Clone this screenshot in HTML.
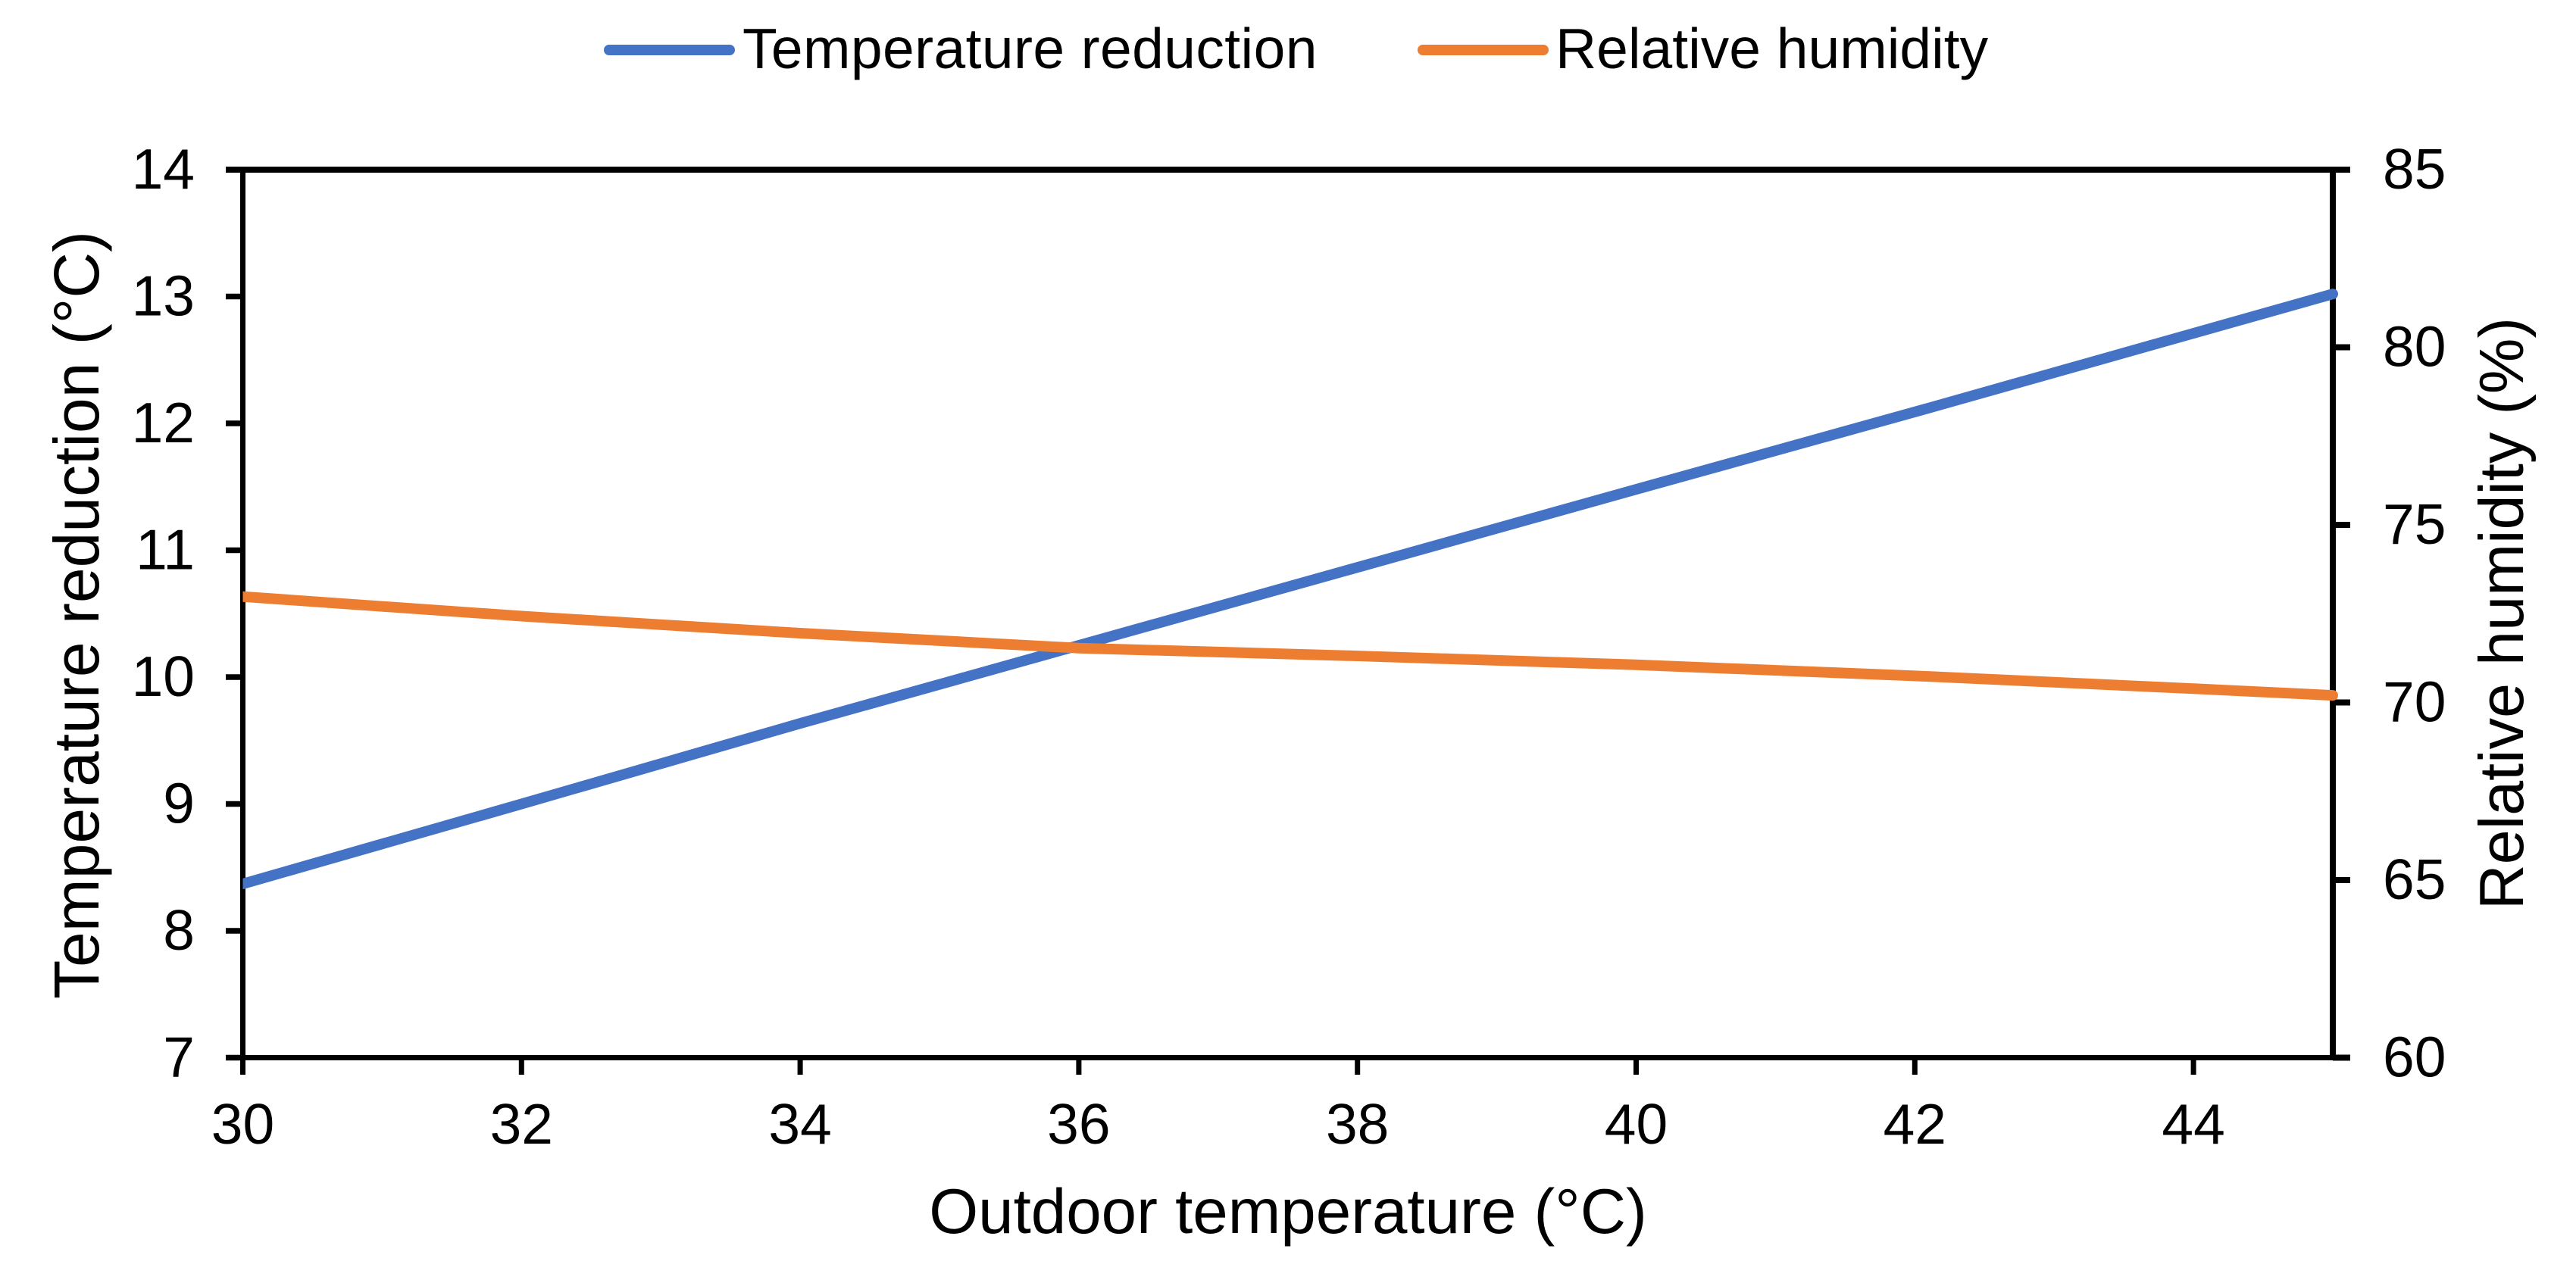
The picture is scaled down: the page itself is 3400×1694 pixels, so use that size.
<!DOCTYPE html>
<html lang="en">
<head>
<meta charset="utf-8">
<title>Temperature reduction and relative humidity vs outdoor temperature</title>
<style>
  html, body { margin: 0; padding: 0; background: #fff; }
  svg { display: block; }
  text { font-family: "Liberation Sans", Arial, sans-serif; font-size: 75px; fill: #000; }
  .axis-title { font-size: 84px; }
  .axis-title-x { font-size: 83.5px; }
  .axis-title-right { font-size: 82.8px; }
</style>
</head>
<body>
<svg id="chart" xmlns="http://www.w3.org/2000/svg" width="3400" height="1694" viewBox="0 0 3400 1694">
  <rect x="0" y="0" width="3400" height="1694" fill="#ffffff"/>
  <g id="axes"></g>
  <g id="series"></g>
  <g id="legend"></g>
  <text class="axis-title-x" x="1700" y="1628" text-anchor="middle">Outdoor temperature (°C)</text>
  <text class="axis-title" transform="translate(130 812) rotate(-90)" text-anchor="middle">Temperature reduction (°C)</text>
  <text class="axis-title-right" transform="translate(3330 810) rotate(-90)" text-anchor="middle">Relative humidity (%)</text>
</svg>
<script>
const outdoorTemps = [30, 32, 34, 36, 38, 40, 42, 44, 45];
const temperatureReduction = [8.37, 9.0, 9.635, 10.25, 10.865, 11.48, 12.09, 12.71, 13.02];
const relativeHumidity = [72.98, 72.43, 71.95, 71.53, 71.31, 71.06, 70.75, 70.39, 70.2];
const xTicks = [30, 32, 34, 36, 38, 40, 42, 44];
const leftTicks = [7, 8, 9, 10, 11, 12, 13, 14];
const rightTicks = [60, 65, 70, 75, 80, 85];

const NS = 'http://www.w3.org/2000/svg';
const plot = { left: 320.5, right: 3079, top: 224, bottom: 1396.5 };
const xMin = 30, xMax = 45, leftMin = 7, leftMax = 14, rightMin = 60, rightMax = 85;

function xScale(v) { return plot.left + (v - xMin) / (xMax - xMin) * (plot.right - plot.left); }
function leftScale(v) { return plot.bottom - (v - leftMin) / (leftMax - leftMin) * (plot.bottom - plot.top); }
function rightScale(v) { return plot.bottom - (v - rightMin) / (rightMax - rightMin) * (plot.bottom - plot.top); }

function make(tag, parent, attrs) {
  const el = document.createElementNS(NS, tag);
  for (const k in attrs) el.setAttribute(k, attrs[k]);
  parent.appendChild(el);
  return el;
}

const axes = document.getElementById('axes');
const seriesGroup = document.getElementById('series');
const legend = document.getElementById('legend');
const stubL = 22.5;
const stubR = 23;

// Frame
const frameTop = make('line', axes, { x1: plot.left - stubL, x2: plot.right + stubR, y1: plot.top, y2: plot.top, stroke: '#000', 'stroke-width': 8 });


const frameBottom = make('line', axes, { x1: plot.left - stubL, x2: plot.right + stubR, y1: plot.bottom, y2: plot.bottom, stroke: '#000', 'stroke-width': 7 });


const frameLeft = make('line', axes, { x1: plot.left, x2: plot.left, y1: plot.top, y2: plot.bottom, stroke: '#000', 'stroke-width': 7 });


const frameRight = make('line', axes, { x1: plot.right, x2: plot.right, y1: plot.top, y2: plot.bottom, stroke: '#000', 'stroke-width': 8 });



// X ticks
xTicks.forEach(function (t) {
  const x = xScale(t);
  const tick = make('line', axes, { x1: x, x2: x, y1: plot.bottom, y2: 1419, stroke: '#000', 'stroke-width': 7 });
  
  
  const label = make('text', axes, { x: x, y: 1510, 'text-anchor': 'middle' });
  
  
  label.textContent = t;
});

// Left ticks
leftTicks.forEach(function (t) {
  const y = leftScale(t);
  const tick = make('line', axes, { x1: plot.left - stubL, x2: plot.left, y1: y, y2: y, stroke: '#000', 'stroke-width': 7.5 });
  
  
  const label = make('text', axes, { x: 257, y: y + 25, 'text-anchor': 'end' });
  
  
  label.textContent = t;
});

// Right ticks
rightTicks.forEach(function (t) {
  const y = rightScale(t);
  const tick = make('line', axes, { x1: plot.right, x2: plot.right + stubR, y1: y, y2: y, stroke: '#000', 'stroke-width': 8 });
  
  
  const label = make('text', axes, { x: 3145, y: y + 25, 'text-anchor': 'start' });
  
  
  label.textContent = t;
});

// Clip so lines begin flat at the left axis and keep a round cap at the right end
const defs = make('defs', seriesGroup, {});
const clip = make('clipPath', defs, { id: 'plot-clip' });
make('rect', clip, { x: plot.left, y: 0, width: plot.right - plot.left + 30, height: 1694 });

function linePoints(xs, ys, yFn) {
  return xs.map(function (v, i) { return xScale(v).toFixed(2) + ',' + yFn(ys[i]).toFixed(2); }).join(' ');
}

const blueLine = make('polyline', seriesGroup, {
  points: linePoints(outdoorTemps, temperatureReduction, leftScale),
  fill: 'none', stroke: '#4472C4', 'stroke-width': 14,
  'stroke-linecap': 'round', 'stroke-linejoin': 'round', 'clip-path': 'url(#plot-clip)'
});



const orangeLine = make('polyline', seriesGroup, {
  points: linePoints(outdoorTemps, relativeHumidity, rightScale),
  fill: 'none', stroke: '#ED7D31', 'stroke-width': 14,
  'stroke-linecap': 'round', 'stroke-linejoin': 'round', 'clip-path': 'url(#plot-clip)'
});



// Legend
const blueKey = make('line', legend, { x1: 804, x2: 963, y1: 66, y2: 66, stroke: '#4472C4', 'stroke-width': 14, 'stroke-linecap': 'round' });


const blueText = make('text', legend, { x: 980, y: 90, 'letter-spacing': '0.4' });


blueText.textContent = 'Temperature reduction';

const orangeKey = make('line', legend, { x1: 1878, x2: 2037, y1: 66, y2: 66, stroke: '#ED7D31', 'stroke-width': 14, 'stroke-linecap': 'round' });


const orangeText = make('text', legend, { x: 2053, y: 90 });


orangeText.textContent = 'Relative humidity';
</script>
</body>
</html>
